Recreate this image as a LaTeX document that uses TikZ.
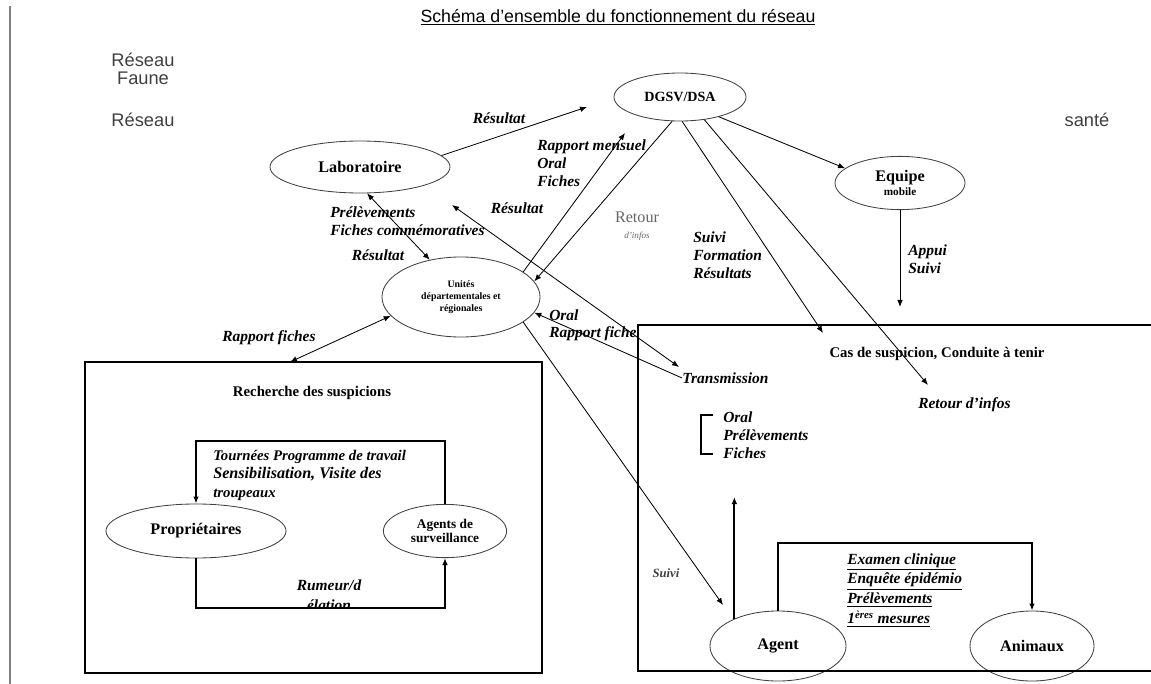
\documentclass[tikz,border=0pt]{standalone}
\usepackage{fontspec}
\setmainfont{Liberation Serif}
\setsansfont{Liberation Sans}
\usetikzlibrary{arrows.meta,positioning,shapes.geometric}

\begin{document}
\begin{tikzpicture}[x=0.025cm,y=-0.025cm,
  ell/.style={draw=black!75,line width=0.6pt,ellipse,inner sep=0pt,align=center,font=\bfseries\fontsize{11.5}{13}\selectfont},
  lab/.style={inner sep=0pt,align=left,font=\bfseries\itshape\fontsize{11}{13}\selectfont},
  grey/.style={inner sep=0pt,align=center,text=black!75,font=\sffamily\fontsize{13}{12.8}\selectfont},
  arr/.style={-{Latex[length=5pt,width=4pt]},line width=0.6pt},
  darr/.style={{Latex[length=5pt,width=4pt]}-{Latex[length=5pt,width=4pt]},line width=0.6pt},
  loopline/.style={-{Latex[length=5pt,width=4pt]},line width=1.4pt},
  bigbox/.style={line width=1.8pt}]
\useasboundingbox (0,0) rectangle (1151,684);
\draw[gray,line width=0.8pt] (10,6) -- (10,684);
% Title and side texts
\node[inner sep=0pt,font=\sffamily\fontsize{12.6}{15}\selectfont] (titre) at (618,17) {\underline{Schéma d'ensemble du fonctionnement du réseau}};
\node[grey] (faune) at (143,69) {Réseau\\Faune};
\node[grey] (reseau) at (143,120) {Réseau};
\node[grey] (sante) at (1087,120) {santé};
% Ellipses
\node[ell,minimum width=4.5cm,minimum height=1.3cm] (labo) at (360,167) {Laboratoire};
\node[ell,minimum width=3.3cm,minimum height=1.2cm,font=\bfseries\fontsize{10}{12}\selectfont] (dgsv) at (680,97) {DGSV/DSA};
\node[ell,minimum width=3.25cm,minimum height=1.33cm] (equipe) at (900,183) {Equipe\\[-3pt]{\fontsize{8}{9}\selectfont mobile}};
\node[ell,minimum width=3.95cm,minimum height=2cm,font=\bfseries\fontsize{7}{8.5}\selectfont] (unites) at (461,297) {Unités\\départementales et\\régionales};
\node[ell,minimum width=4.5cm,minimum height=1.35cm] (prop) at (196,531) {Propriétaires};
\node[ell,minimum width=3.08cm,minimum height=1.33cm,font=\bfseries\fontsize{9.5}{10.5}\selectfont] (surv) at (445,531) {Agents de\\surveillance};
\node[ell,minimum width=3.4cm,minimum height=1.75cm] (agent) at (778,646) {Agent};
\node[ell,minimum width=3.1cm,minimum height=1.75cm] (anim) at (1032,646) {Animaux};
% Big boxes
\draw[bigbox] (85,362) rectangle (542,673);
\draw[bigbox] (1151,325) -- (638,325) -- (638,671) -- (1151,671);
\node[inner sep=0pt,font=\bfseries\fontsize{10.5}{12}\selectfont] (rech) at (312,393) {Recherche des suspicions};
\node[inner sep=0pt,font=\bfseries\fontsize{10.5}{12}\selectfont] (cas) at (937,354) {Cas de suspicion, Conduite à tenir};
\node[lab,anchor=west] (retour) at (918,405) {Retour d'infos};
\node[lab,anchor=west] (trans) at (682,378) {Transmission};
% Loop between owners and agents
\coordinate (loopTop) at (445,441);
\coordinate (loopBot) at (196,608);
\draw[loopline] (surv.north) |- (loopTop) -| (prop.north);
\draw[loopline] (prop.south) |- (loopBot) -| (surv.south);
\node[lab,anchor=north west,font=\bfseries\itshape\fontsize{10.5}{13}\selectfont] (tour) at (213,450) {Tournées Programme de travail\\{\fontsize{11.5}{13}\selectfont Sensibilisation, Visite des}\\troupeaux};
\node[lab] (rum) at (329,585) {Rumeur/d};
\begin{scope}
\clip (200,596) rectangle (440,607);
\node[lab] (rum2) at (329,605) {élation};
\end{scope}
% Loop agent -> animals
\coordinate (agLoop) at (778,543);
\draw[loopline] (agent.north) |- (agLoop) -| (anim.north);
\coordinate (upTip) at (737,497);
\draw[loopline] (agent.148) -- (agent.148 |- upTip);
\node[lab,anchor=north west,font=\bfseries\itshape\fontsize{11}{14.2}\selectfont] (exam) at (847,553) {\underline{Examen clinique}\\\underline{Enquête épidémio}\\\underline{Prélèvements}\\\underline{1\textsuperscript{ères} mesures}};
% Bracket
\draw[line width=1.4pt] (713,415) -- (701,415) -- (701,454) -- (713,454);
\node[lab,anchor=north west] (brk) at (723,411) {Oral\\Prélèvements\\Fiches};
% Connectors
\coordinate (resTip) at (587,107);
\draw[arr] (labo.8) -- (resTip);
\node[lab] (res1) at (499,118) {Résultat};
\draw[darr] (labo.-75) -- (unites.130);
\node[lab,anchor=north west] (prel) at (330,206) {Prélèvements\\Fiches commémoratives};
\node[lab] (res2) at (378,255) {Résultat};
\coordinate (labTip) at (452,205);
\coordinate (transTip) at (679,367);
\draw[darr] (labTip) -- (transTip);
\node[lab] (res3) at (517,208) {Résultat};
\draw[arr] (trans.west) -- (unites.-12);
\node[lab,anchor=west] (oral2) at (549,315) {Oral};
\node[lab,anchor=west] (rapfich2) at (549,334) {Rapport fiche};
\coordinate (rapTip) at (625,133);
\draw[arr] (unites.22) -- (rapTip);
\node[lab,anchor=north west] (rapmens) at (537,139) {Rapport mensuel\\Oral\\Fiches};
\draw[arr] (dgsv.-108) -- (unites.12);
\node[inner sep=0pt,align=center,text=black!60,font=\fontsize{11.5}{11}\selectfont] (retinf) at (637,226) {Retour\\{\itshape\fontsize{6.5}{7}\selectfont d'infos}};
\draw[arr] (dgsv.-27) -- (equipe.165);
\coordinate (casTip) at (823,333);
\draw[arr] (dgsv.-85) -- (casTip);
\node[lab,anchor=north west] (suivform) at (693,231) {Suivi\\Formation\\Résultats};
\coordinate (retTip) at (928,385);
\draw[arr] (dgsv.-43) -- (retTip);
\coordinate (appuiTip) at (900,307);
\draw[arr] (equipe.south) -- (appuiTip);
\node[lab,anchor=north west] (appui) at (908,244) {Appui\\Suivi};
\coordinate (suiviTip) at (723,605);
\draw[arr] (unites.-22) -- (suiviTip);
\node[lab,text=black!75,font=\bfseries\itshape\fontsize{9}{10}\selectfont] (suivi2) at (666,573) {Suivi};
\coordinate (rechTip) at (290,362);
\draw[darr] (unites.195) -- (rechTip);
\node[lab] (rapfich) at (269,338) {Rapport fiches};
\end{tikzpicture}
\end{document}
